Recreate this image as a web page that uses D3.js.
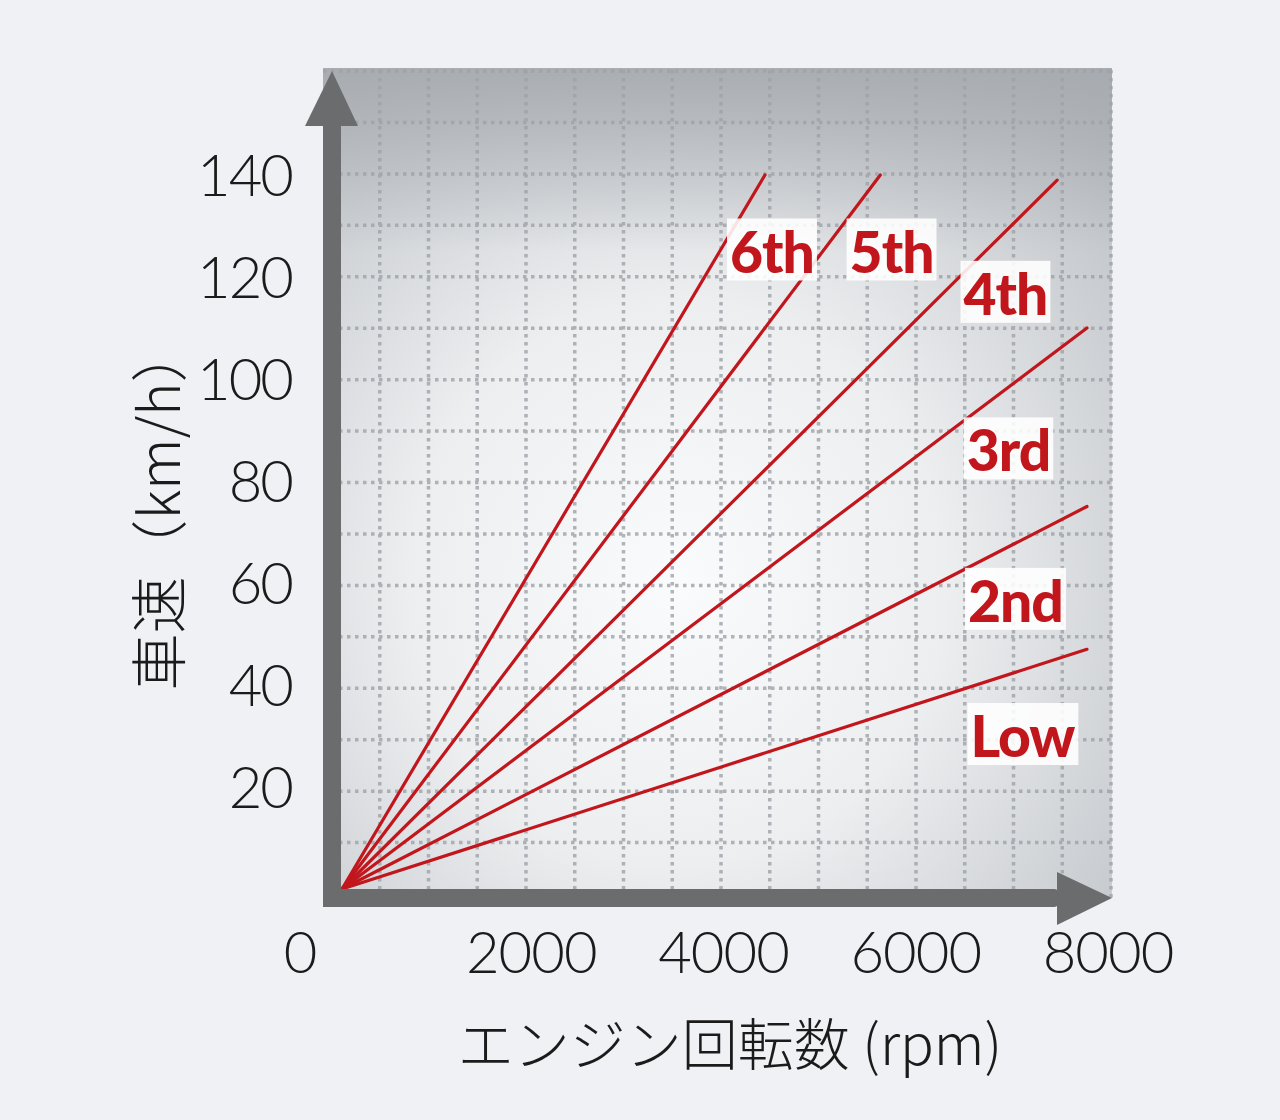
<!DOCTYPE html>
<html>
<head>
<meta charset="utf-8">
<script src="https://cdn.jsdelivr.net/npm/d3@7"></script>
<style>
  html, body { margin: 0; padding: 0; background: #eff1f4; }
  svg { display: block; }
</style>
</head>
<body>
<svg id="chart" width="1280" height="1120"></svg>
<script>
// ---- data ----
const gears    = ["Low", "2nd", "3rd", "4th", "5th", "6th"];
const maxRpm   = [7750, 7750, 7750, 7440, 5600, 4400];
const maxSpeed = [47, 75, 110, 139, 140, 140];
const labelRpm = [7079, 7006, 6934, 6902, 5717, 4473];
const labelKmh = [30, 56.5, 86, 116.7, 125, 125];
const xTicks   = [0, 2000, 4000, 6000, 8000];
const yTicks   = [20, 40, 60, 80, 100, 120, 140];
const xTitle   = "エンジン回転数 (rpm)";
const yTitle   = "車速（km/h）";

const svg = d3.select("#chart");
const W = 1280, H = 1120;
svg.append("rect").attr("width", W).attr("height", H).attr("fill", "#eff1f4");

const x = d3.scaleLinear().domain([0, 8000]).range([342, 1111]);
const y = d3.scaleLinear().domain([0, 140]).range([889, 175]);
// decorative grid (16 cells each way)
const gx = d3.scaleLinear().domain([0, 16]).range([331, 1111]);
const gy = d3.scaleLinear().domain([0, 16]).range([894, 71]);

const defs = svg.append("defs");
const rg = defs.append("radialGradient").attr("id", "bg")
  .attr("cx", "0.45").attr("cy", "0.62").attr("r", "0.85");
rg.append("stop").attr("offset", "0").attr("stop-color", "#fafbfc");
rg.append("stop").attr("offset", "0.4").attr("stop-color", "#eceef0");
rg.append("stop").attr("offset", "0.8").attr("stop-color", "#c6c9cd");
rg.append("stop").attr("offset", "1").attr("stop-color", "#aeb2b6");
const lg = defs.append("linearGradient").attr("id", "topband")
  .attr("x1", 0).attr("y1", 0).attr("x2", 0).attr("y2", 1);
lg.append("stop").attr("offset", "0").attr("stop-color", "#a6aaaf").attr("stop-opacity", 0.9);
lg.append("stop").attr("offset", "0.22").attr("stop-color", "#a6aaaf").attr("stop-opacity", 0);
lg.append("stop").attr("offset", "1").attr("stop-color", "#a6aaaf").attr("stop-opacity", 0);

const plotL = 323, plotR = 1112, plotT = 68, plotB = 898;
svg.append("rect").attr("x", plotL).attr("y", plotT)
  .attr("width", plotR - plotL).attr("height", plotB - plotT)
  .attr("fill", "url(#bg)");
svg.append("rect").attr("x", plotL).attr("y", plotT)
  .attr("width", plotR - plotL).attr("height", plotB - plotT)
  .attr("fill", "url(#topband)");

// grid
const grid = svg.append("g").attr("stroke", "#9fa3a8").attr("stroke-width", 3.5)
  .attr("stroke-dasharray", "3.5,4.5").attr("opacity", 0.8);
d3.range(1, 17).forEach(k => {
  grid.append("line").attr("x1", gx(k)).attr("x2", gx(k))
    .attr("y1", plotT + 2).attr("y2", plotB);
  grid.append("line").attr("x1", plotL).attr("x2", plotR)
    .attr("y1", gy(k)).attr("y2", gy(k));
});

// gear lines
const lines = svg.append("g");
gears.forEach((g, i) => {
  lines.append("line")
    .attr("x1", x(0)).attr("y1", y(0))
    .attr("x2", x(maxRpm[i])).attr("y2", y(maxSpeed[i]))
    .attr("stroke", "#c2161d").attr("stroke-width", 3.2)
    .attr("stroke-linecap", "round");
});

// labels with white boxes
const lab = svg.append("g");
gears.forEach((g, i) => {
  const cx = x(labelRpm[i]), cy = y(labelKmh[i]);
  const grp = lab.append("g");
  const rect = grp.append("rect").attr("fill", "#ffffff").attr("opacity", 0.88);
  const t = grp.append("text")
    .attr("x", cx).attr("y", cy + 21)
    .attr("text-anchor", "middle")
    .attr("font-family", "Lato, 'Open Sans', sans-serif")
    .attr("font-weight", 900)
    .attr("font-size", 57)
    .attr("letter-spacing", -1)
    .attr("fill", "#c2161d")
    .text(g);
  const bb = t.node().getBBox();
  rect.attr("x", bb.x - 3).attr("y", cy - 33)
    .attr("width", bb.width + 6).attr("height", 62);
});

// axes
const axisC = "#6b6c6e";
svg.append("path")
  .attr("d", d3.line()([[323, 907], [323, 125], [341, 125], [341, 907]]) + "Z")
  .attr("fill", axisC);
svg.append("path")
  .attr("d", d3.line()([[305, 126], [332, 71], [358, 126]]) + "Z")
  .attr("fill", axisC);
svg.append("rect").attr("x", 323).attr("y", 889).attr("width", 1058 - 323).attr("height", 18)
  .attr("rx", 4).attr("fill", axisC);
svg.append("rect").attr("x", 323).attr("y", 880).attr("width", 18).attr("height", 20).attr("fill", axisC);
svg.append("path")
  .attr("d", d3.line()([[1057, 872], [1112, 898], [1057, 925]]) + "Z")
  .attr("fill", axisC);

// tick labels
const tickFont = "Lato, 'Open Sans', sans-serif";
svg.append("g").selectAll("text").data(yTicks).join("text")
  .attr("x", 292).attr("y", d => y(d) + 21)
  .attr("text-anchor", "end")
  .attr("font-family", tickFont).attr("font-weight", 300)
  .attr("font-size", 58).attr("letter-spacing", -2)
  .attr("fill", "#1b1b1b")
  .text(d => d);
svg.append("g").selectAll("text").data(xTicks).join("text")
  .attr("x", d => d === 0 ? x(d) - 42 : x(d) - 3)
  .attr("y", 973)
  .attr("text-anchor", "middle")
  .attr("font-family", tickFont).attr("font-weight", 300)
  .attr("font-size", 58).attr("letter-spacing", -1)
  .attr("fill", "#1b1b1b")
  .text(d => d);

// axis titles
svg.append("text")
  .attr("x", 730).attr("y", 1065)
  .attr("text-anchor", "middle")
  .attr("font-family", "'Noto Sans CJK JP', sans-serif")
  .attr("font-weight", 300)
  .attr("font-size", 56)
  .attr("fill", "#1b1b1b")
  .text(xTitle);
svg.append("text")
  .attr("transform", "translate(180,508) rotate(-90)")
  .attr("text-anchor", "middle")
  .attr("font-family", "'Noto Sans CJK JP', sans-serif")
  .attr("font-weight", 300)
  .attr("font-size", 57)
  .attr("fill", "#1b1b1b")
  .text(yTitle);
</script>
</body>
</html>
